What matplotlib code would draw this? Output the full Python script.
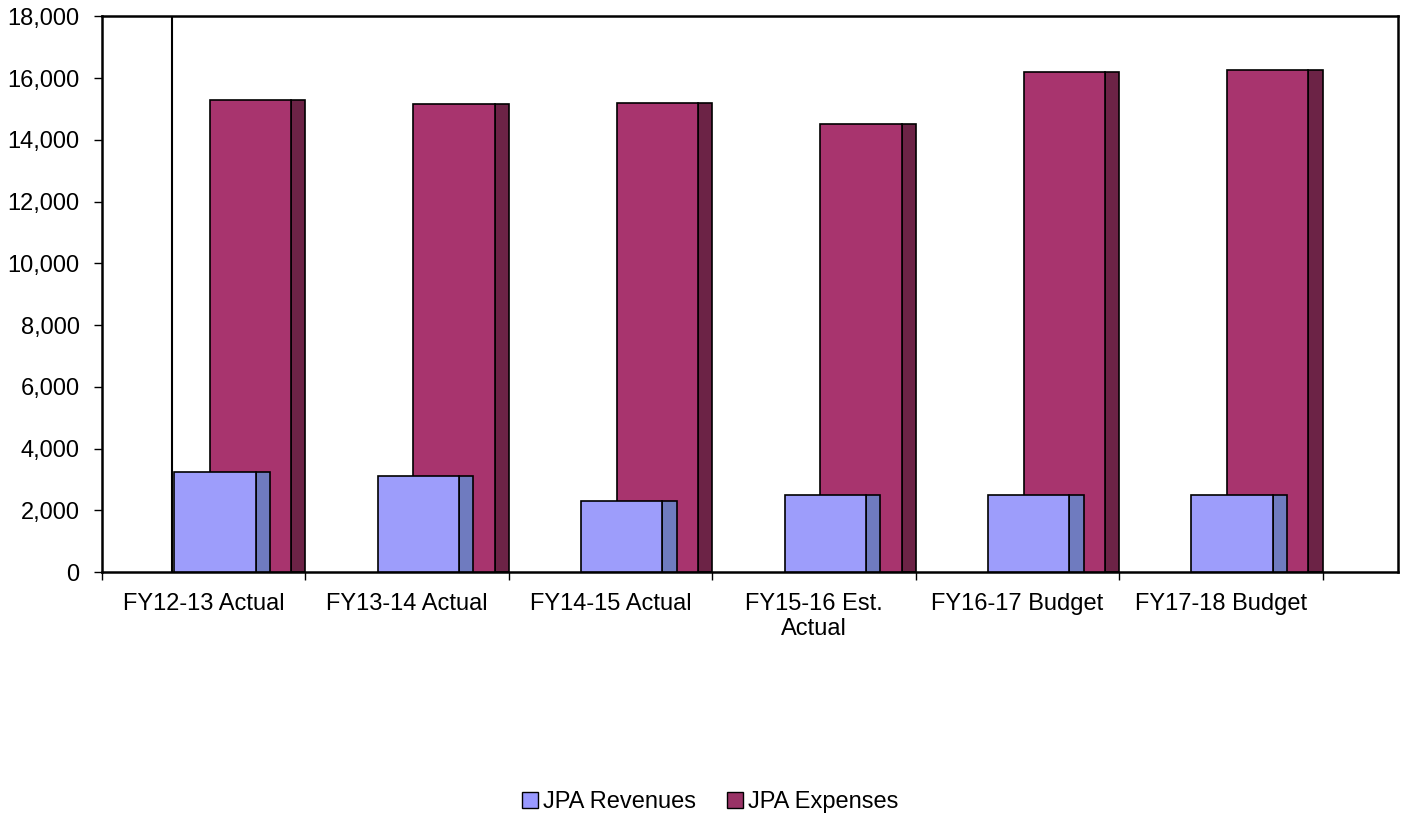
import matplotlib
matplotlib.use("Agg")
import matplotlib.pyplot as plt
from matplotlib.patches import Patch

# Datos del grafico
categorias = ["FY12-13 Actual", "FY13-14 Actual", "FY14-15 Actual",
              "FY15-16 Est.\nActual", "FY16-17 Budget", "FY17-18 Budget"]
ingresos = [3250, 3100, 2300, 2500, 2480, 2480]
gastos = [15300, 15150, 15200, 14500, 16200, 16250]

plt.rcParams['font.family'] = ['Liberation Sans', 'DejaVu Sans']

fig = plt.figure(figsize=(14.06, 8.13), dpi=100)
ax = fig.add_axes([0.0725, 0.2964, 0.9218, 0.6836])

ancho = 0.40    # cara frontal
prof = 0.07     # cara lateral
off_ing = 0.355
off_gas = 0.53

col_ing, col_ing_lado = "#9d9dfb", "#6f7bbf"
col_gas, col_gas_lado = "#a8346e", "#6c2346"

# Linea de la pared del fondo
ax.vlines(0.344, 0, 18000, color="black", lw=1.5, zorder=1)

for i in range(len(categorias)):
    # Gastos (detras)
    ax.bar(i + off_gas + ancho, gastos[i], width=prof, align="edge",
           color=col_gas_lado, edgecolor="black", lw=1.2, zorder=2)
    ax.bar(i + off_gas, gastos[i], width=ancho, align="edge",
           color=col_gas, edgecolor="black", lw=1.2, zorder=3)
    # Ingresos (delante)
    ax.bar(i + off_ing + ancho, ingresos[i], width=prof, align="edge",
           color=col_ing_lado, edgecolor="black", lw=1.2, zorder=4)
    ax.bar(i + off_ing, ingresos[i], width=ancho, align="edge",
           color=col_ing, edgecolor="black", lw=1.2, zorder=5)

ax.set_xlim(0, 6.37)
ax.set_ylim(0, 18000)

ax.set_yticks(range(0, 18001, 2000))
ax.set_yticklabels([f"{v:,}" for v in range(0, 18001, 2000)], fontsize=17)
ax.set_xticks(range(0, 7))
ax.set_xticklabels([])
ax.set_xticks([i + 0.5 for i in range(6)], minor=True)
ax.set_xticklabels(categorias, minor=True, fontsize=17, linespacing=1.2)
ax.tick_params(axis="x", which="minor", length=0, pad=15)
ax.tick_params(axis="x", which="major", length=6, width=1, direction="out")
ax.tick_params(axis="y", length=6, width=1, direction="out", pad=10)

for s in ax.spines.values():
    s.set_linewidth(1.8)
    s.set_color("black")

# Leyenda
handles = [Patch(facecolor="#9999ff", edgecolor="black", label="JPA Revenues"),
           Patch(facecolor="#993366", edgecolor="black", label="JPA Expenses")]
fig.legend(handles=handles, loc="center", bbox_to_anchor=(0.505, 0.013),
           ncol=2, frameon=False, fontsize=17, handlelength=0.7,
           handleheight=0.7, handletextpad=0.2, columnspacing=1.3)

fig.savefig("out.png", dpi=100)
